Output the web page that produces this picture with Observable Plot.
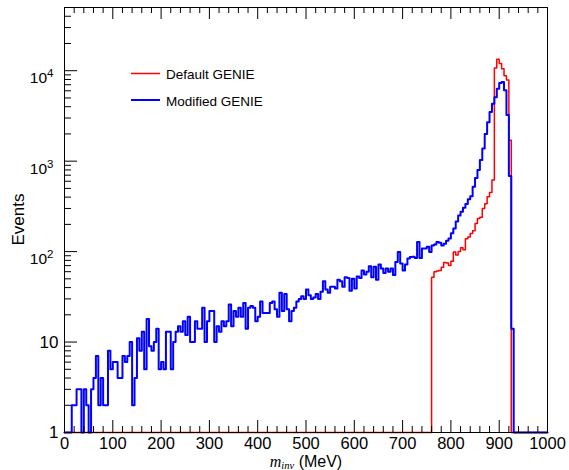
<!DOCTYPE html>
<html><head><meta charset="utf-8">
<script src="https://cdn.jsdelivr.net/npm/d3@7"></script>
<script src="https://cdn.jsdelivr.net/npm/@observablehq/plot@0.6"></script>
<style>body{margin:0;background:#fff}</style>
</head><body><div id="chart"></div>
<script>
// bin low edges (MeV), 5 MeV bins from 0 to 1000
const binEdges = d3.range(0, 1000, 5);
const binUpper = 1000;

// Default GENIE (red) counts per bin
const defaultGenie = [
  0,0,0,0,0,0,0,0,0,0,   0,0,0,0,0,0,0,0,0,0,
  0,0,0,0,0,0,0,0,0,0,   0,0,0,0,0,0,0,0,0,0,
  0,0,0,0,0,0,0,0,0,0,   0,0,0,0,0,0,0,0,0,0,
  0,0,0,0,0,0,0,0,0,0,   0,0,0,0,0,0,0,0,0,0,
  0,0,0,0,0,0,0,0,0,0,   0,0,0,0,0,0,0,0,0,0,
  0,0,0,0,0,0,0,0,0,0,   0,0,0,0,0,0,0,0,0,0,
  0,0,0,0,0,0,0,0,0,0,   0,0,0,0,0,0,0,0,0,0,
  0,0,0,0,0,0,0,0,0,0,   0,0,52,60,61,62,67,76,75,70,
  78,99,92,100,110,105,139,145,159,170,
  205,233,240,300,339,405,450,620,10700,13400,
  12000,10500,8800,7900,1700,0,0,0,0,0,
  0,0,0,0,0,0,0,0,0,0
];

// Modified GENIE (blue) counts per bin
const modifiedGenie = [
  0,0,0,2,2,3,3,0,3,2,
  0,3,4,7,2,4,2,2,8,5,
  6,6,4,4,7,6,7,10,2,4,
  11,8,13,5,18,9,8,10,14,5,
  6,5,13,13,5,10,13,15,13,17,
  12,19,10,10,17,14,14,24,10,17,
  22,22,10,15,13,17,15,17,26,15,
  22,19,24,19,27,14,24,25,24,17,
  19,28,21,21,21,27,28,23,19,35,
  22,34,23,17,22,24,28,30,32,30,
  38,33,30,31,34,30,36,47,38,35,
  41,41,39,49,47,41,52,51,37,50,
  39,53,51,62,56,60,69,52,68,49,
  72,65,58,65,60,65,55,77,99,74,
  62,72,84,87,88,85,128,85,108,108,
  113,99,117,120,128,125,117,122,132,140,
  160,180,215,250,275,305,335,380,410,520,
  650,800,1030,1380,2000,2700,3500,4300,5100,6300,
  7300,7500,6100,3240,684,14,0,0,0,0,
  0,0,0,0,0,0,0,0,0,0
];

const xMajorTicks = [0,100,200,300,400,500,600,700,800,900,1000];
const xMinorTicks = [20,40,60,80,120,140,160,180,220,240,260,280,320,340,360,380,420,440,460,480,520,540,560,580,620,640,660,680,720,740,760,780,820,840,860,880,920,940,960,980];
const yMajorTicks = [1,10,100,1000,10000];
const yMinorTicks = [2,3,4,5,6,7,8,9,20,30,40,50,60,70,80,90,200,300,400,500,600,700,800,900,2000,3000,4000,5000,6000,7000,8000,9000,20000,30000,40000];
const seriesNames = ["Default GENIE","Modified GENIE"];

function toSteps(vals){
  const pts = binEdges.map((x,i)=>({x, y: Math.max(vals[i],1)}));
  pts.push({x: binUpper, y: Math.max(vals[vals.length-1],1)});
  return pts;
}
const redSeries = toSteps(defaultGenie);
const blueSeries = toSteps(modifiedGenie);

const W=569,H=470,mL=64,mR=22,mT=7,mB=38;
const fw=W-mL-mR, fh=H-mT-mB;

const chart = Plot.plot({
  width: W, height: H,
  marginLeft: mL, marginRight: mR, marginTop: mT, marginBottom: mB,
  style: {fontFamily: "'Liberation Sans', Arial, sans-serif", fontSize: "17px", background: "#fff", color: "#000"},
  x: {domain: [0, 1000]},
  y: {type: "log", domain: [1, 50000]},
  marks: [
    Plot.line(redSeries, {x: "x", y: "y", curve: "step-after", stroke: "#ff0000", strokeWidth: 1.5}),
    Plot.line(blueSeries, {x: "x", y: "y", curve: "step-after", stroke: "#0000ff", strokeWidth: 2}),
    Plot.tickX(xMajorTicks, {x: d=>d, insetTop: fh-12, stroke: "#000"}),
    Plot.tickX(xMinorTicks, {x: d=>d, insetTop: fh-6, stroke: "#000"}),
    Plot.tickX(xMajorTicks, {x: d=>d, insetBottom: fh-12, stroke: "#000"}),
    Plot.tickX(xMinorTicks, {x: d=>d, insetBottom: fh-6, stroke: "#000"}),
    Plot.tickY(yMajorTicks, {y: d=>d, insetRight: fw-13, stroke: "#000"}),
    Plot.tickY(yMinorTicks, {y: d=>d, insetRight: fw-7, stroke: "#000"}),
    Plot.frame({stroke: "#000"}),
    Plot.axisX({ticks: xMajorTicks, tickSize: 0, tickPadding: 5, label: null, fontSize: 16.5, tickFormat: d=>String(d)}),
    Plot.axisY({ticks: yMajorTicks, tickSize: 0, tickPadding: 6, label: null, fontSize: 17,
      tickFormat: d => d===1 ? "1" : d===10 ? "10" : "10^" + Math.round(Math.log10(d))})
  ]
});
document.getElementById("chart").appendChild(chart);

const svg = d3.select(chart);
// superscripts for log labels
svg.selectAll('g[aria-label="y-axis tick label"] text').each(function(){
  const t = d3.select(this);
  const s = t.text();
  if (s.indexOf("^") >= 0) {
    const e = s.split("^")[1];
    t.text("10").attr("font-size", 15.5).attr("dx", -5).attr("dy", "0.5em");
    t.append("tspan").attr("dy", "-0.55em").attr("font-size", 11.5).text(e);
  }
});

// y title
svg.append("text")
  .attr("transform", "translate(24,219.5) rotate(-90)")
  .attr("text-anchor", "middle").attr("font-size", 17).attr("fill", "#000")
  .text("Events");

// x title
const xt = svg.append("text").attr("x", 306).attr("y", 467).attr("text-anchor", "middle")
  .attr("font-size", 16).attr("fill", "#000");
xt.append("tspan").attr("font-family", "'Liberation Serif', serif").attr("font-style", "italic").text("m");
xt.append("tspan").attr("font-family", "'Liberation Serif', serif").attr("font-style", "italic")
  .attr("font-size", 10.5).attr("dy", 2).text("inv");
xt.append("tspan").attr("dy", -2).text(" (MeV)");

// legend
const lg = svg.append("g").attr("font-size", 13.5).attr("fill", "#000").attr("text-anchor", "start");
[["#ff0000", 1.5, 73.5, 79], ["#0000ff", 2, 100, 105.5]].forEach(([c, w, ly, ty], i) => {
  lg.append("line").attr("x1", 131).attr("x2", 160).attr("y1", ly).attr("y2", ly)
    .attr("stroke", c).attr("stroke-width", w);
  lg.append("text").attr("x", 166).attr("y", ty).attr("text-anchor", "start").text(seriesNames[i]);
});
</script>
</body></html>
